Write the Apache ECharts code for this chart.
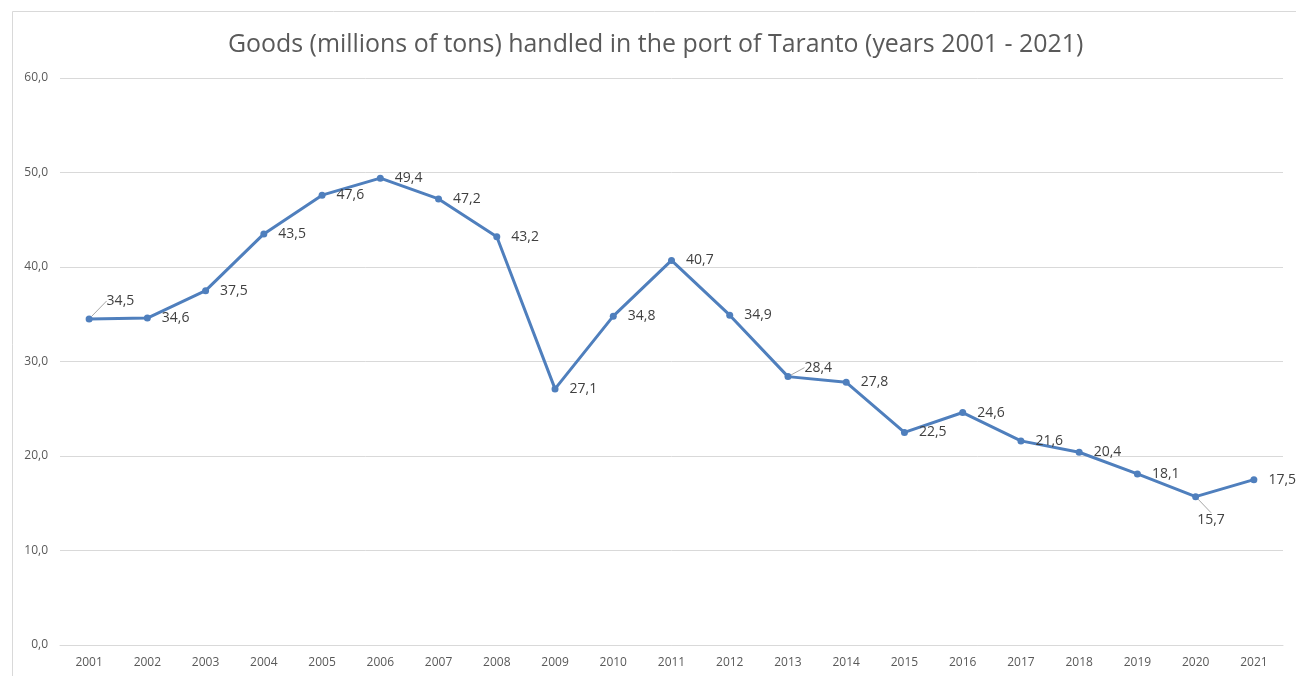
<!DOCTYPE html>
<html>
<head>
<meta charset="utf-8">
<script src="https://cdn.jsdelivr.net/npm/echarts@6/dist/echarts.min.js"></script>
<style>html,body{margin:0;padding:0;background:#fff}#c{width:1296px;height:676px}</style>
</head>
<body>
<div id="c"></div>
<script>
const titleText = 'Goods (millions of tons) handled in the port of Taranto (years 2001 - 2021)';
const years = ['2001','2002','2003','2004','2005','2006','2007','2008','2009','2010','2011','2012','2013','2014','2015','2016','2017','2018','2019','2020','2021'];
const goods = [34.5,34.6,37.5,43.5,47.6,49.4,47.2,43.2,27.1,34.8,40.7,34.9,28.4,27.8,22.5,24.6,21.6,20.4,18.1,15.7,17.5];
const yTicks = [0,10,20,30,40,50,60];
const leaderIdx = [0, 12, 19];

const fmt = v => Number(v).toFixed(1).replace('.', ',');
const FONT = '"Open Sans", "Noto Sans", sans-serif';

const chart = echarts.init(document.getElementById('c'), null, {renderer:'canvas'});
chart.setOption({
  animation: false,
  backgroundColor: '#ffffff',
  title: {
    text: titleText, left: 223, top: 27,
    textStyle: {fontFamily: FONT, fontSize: 24.9, fontWeight: 'normal', color: '#595959'}
  },
  graphic: [{
    type: 'rect', shape: {x: 12.5, y: 11.5, width: 1300, height: 700},
    style: {fill: 'none', stroke: '#d9d9d9', lineWidth: 1}, silent: true
  }],
  grid: {left: 60, right: 13, top: 78, bottom: 31, containLabel: false},
  xAxis: {
    type: 'category', data: years, boundaryGap: true,
    axisLine: {show: true, lineStyle: {color: '#d9d9d9'}},
    axisTick: {show: false},
    axisLabel: {fontFamily: FONT, fontSize: 12, color: '#595959', margin: 12}
  },
  yAxis: {
    type: 'value', min: yTicks[0], max: yTicks[yTicks.length-1], interval: 10,
    axisLine: {show: false}, axisTick: {show: false},
    splitLine: {lineStyle: {color: '#d9d9d9', width: 1}},
    axisLabel: {fontFamily: FONT, fontSize: 12, color: '#595959', margin: 12, formatter: fmt}
  },
  series: [{
    type: 'line',
    data: goods.map((v, i) => leaderIdx.includes(i)
      ? {value: v, labelLine: {show: true}}
      : {value: v}),
    symbol: 'circle', symbolSize: 7,
    lineStyle: {color: '#4f7fbd', width: 3},
    itemStyle: {color: '#4f7fbd'},
    label: {
      show: true, position: 'right', distance: 11,
      fontFamily: FONT, fontSize: 14, color: '#404040',
      formatter: p => fmt(p.value)
    },
    labelLine: {show: false, lineStyle: {color: '#a6a6a6', width: 1}, smooth: false, length2: 0},
    labelLayout: p => {
      if (p.dataIndex === 0) return {dx: 3, dy: -18};
      if (p.dataIndex === 12) return {dx: 2, dy: -9};
      if (p.dataIndex === 19) return {dx: -13, dy: 23};
      return {};
    }
  }]
});
</script>
</body>
</html>
